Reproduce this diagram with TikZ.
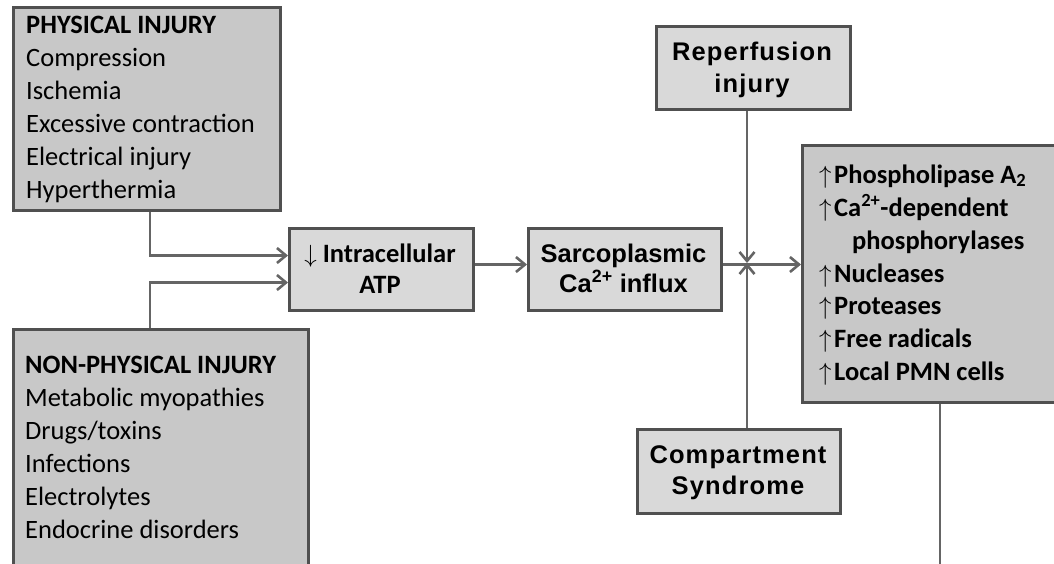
\documentclass[tikz,border=0pt]{standalone}
\usepackage{fontspec}
\setmainfont{Carlito}
\newfontfamily\headsans{Liberation Sans}
\newfontfamily\spacedsans[LetterSpace=4.4]{Liberation Sans}
\usetikzlibrary{arrows.meta}

\definecolor{boxdark}{HTML}{C8C8C8}
\definecolor{boxlight}{HTML}{D9D9D9}
\definecolor{edgegray}{HTML}{505050}
\definecolor{wiregray}{HTML}{656565}

\tikzset{
  box/.style={draw=edgegray, line width=3pt, inner sep=0pt, anchor=north west},
  bigbox/.style={box, fill=boxdark},
  smallbox/.style={box, fill=boxlight},
  wire/.style={draw=wiregray, line width=2.6pt},
  arrowwire/.style={wire, -{Straight Barb[length=9pt,width=15pt]}},
  listtxt/.style={inner sep=0pt, anchor=base west, font=\fontsize{26.5}{33}\selectfont},
  boldtxt/.style={listtxt, font=\fontsize{26.5}{33}\selectfont\bfseries},
  centretxt/.style={inner sep=0pt, anchor=base, font=\fontsize{26.5}{33}\selectfont\bfseries},
  sanstxt/.style={inner sep=0pt, anchor=base, font=\fontsize{25.5}{30}\selectfont\headsans\bfseries},
  spacedtxt/.style={inner sep=0pt, anchor=base, font=\fontsize{25.5}{30}\selectfont\spacedsans\bfseries},
}

\newcommand{\upmark}{\makebox[15pt][l]{$\uparrow$}}

\begin{document}
\begin{tikzpicture}[x=1pt,y=-1pt]
\useasboundingbox (0,0) rectangle (1054,563);

% boxes (two of them run past the edge of the page)
\begin{scope}
\clip (0,0) rectangle (1054,563);
\node[bigbox, minimum width=267pt, minimum height=203pt] (phys) at (12,6) {};
\node[bigbox, minimum width=295pt, minimum height=260pt] (nonphys) at (12,328) {};
\node[smallbox, minimum width=184pt, minimum height=82pt] (atp) at (288,227) {};
\node[smallbox, minimum width=193pt, minimum height=82pt] (sarco) at (527,227) {};
\node[smallbox, minimum width=194pt, minimum height=83pt] (reperf) at (655,25) {};
\node[bigbox, minimum width=270pt, minimum height=257pt] (effects) at (801,144) {};
\node[smallbox, minimum width=203pt, minimum height=84pt] (comp) at (636,428) {};
\end{scope}

% physical injury list
\node[boldtxt] (phys-h) at (26,33) {PHYSICAL INJURY};
\foreach \t [count=\i] in {Compression,Ischemia,Excessive contraction,Electrical injury,Hyperthermia}
  \node[listtxt] (phys-\i) at (26,{33+33.1*\i}) {\t};

% non-physical injury list
\node[boldtxt] (nonphys-h) at (25,373) {NON-PHYSICAL INJURY};
\foreach \t [count=\i] in {Metabolic myopathies,Drugs/toxins,Infections,Electrolytes,Endocrine disorders}
  \node[listtxt] (nonphys-\i) at (25,{373+33*\i}) {\t};

% central chain
\node[centretxt] (atp-1) at (380,262) {$\downarrow$ Intracellular};
\node[centretxt] (atp-2) at (380,293) {ATP};
\node[sanstxt] (sarco-1) at (623.5,262) {Sarcoplasmic};
\node[sanstxt] (sarco-2) at (623.5,292) {Ca\textsuperscript{2+} influx};
\node[spacedtxt] (reperf-1) at (752,60) {Reperfusion};
\node[spacedtxt] (reperf-2) at (752,92) {injury};
\node[spacedtxt] (comp-1) at (738,463) {Compartment};
\node[spacedtxt] (comp-2) at (738,494) {Syndrome};

% effects list
\node[boldtxt] (eff-1) at (819,183) {\upmark Phospholipase A\textsubscript{2}};
\node[boldtxt] (eff-2) at (819,216) {\upmark Ca\textsuperscript{2+}-dependent};
\node[boldtxt] (eff-3) at (852,249) {phosphorylases};
\node[boldtxt] (eff-4) at (819,282) {\upmark Nucleases};
\node[boldtxt] (eff-5) at (819,314) {\upmark Proteases};
\node[boldtxt] (eff-6) at (819,347) {\upmark Free radicals};
\node[boldtxt] (eff-7) at (819,380) {\upmark Local PMN cells};

% connectors
\draw[arrowwire] ([xshift=138pt]phys.south west) |- ([yshift=14pt]atp.west);
\draw[arrowwire] ([xshift=138pt]nonphys.north west) |- ([yshift=-13pt]atp.west);
\draw[arrowwire] ([yshift=5pt]atp.east) -- ([yshift=5pt]sarco.west);
\draw[arrowwire] ([yshift=5pt]sarco.east) -- ([yshift=5pt]sarco.east -| effects.west);
\coordinate (meet) at (747,263);
\draw[arrowwire] (reperf.south -| meet) -- (meet);
\draw[arrowwire] (comp.north -| meet) -- (meet);
\coordinate (tail) at (940,570);
\draw[wire] (effects.south -| tail) -- (tail);
\end{tikzpicture}
\end{document}
